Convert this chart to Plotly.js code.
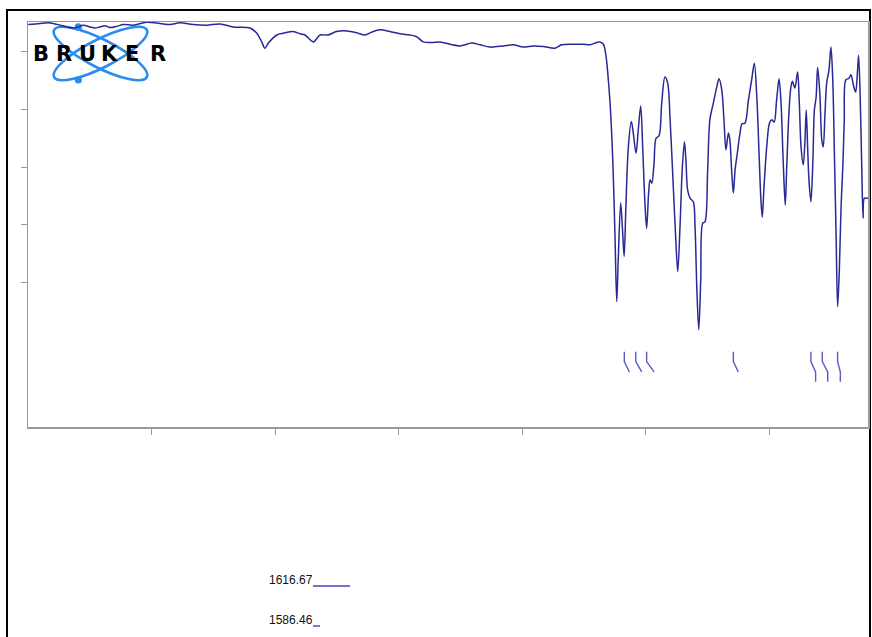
<!DOCTYPE html>
<html>
<head>
<meta charset="utf-8">
<script src="https://cdn.plot.ly/plotly-3.0.1.min.js"></script>
<style>html,body{margin:0;padding:0;background:#fff;}#chart{width:872px;height:637px;}</style>
</head>
<body>
<div id="chart"></div>
<script>
// ---- data (wavenumber cm-1, transmittance %) ----
const wavenumber = [3999,3951,3918,3898,3870,3843,3817,3796,3776,3749,
3729,3709,3688,3668,3641,3614,3574,3520,3466,3425,
3385,3331,3277,3223,3169,3115,3101,3074,3054,3041,
3027,2993,2967,2926,2899,2879,2845,2818,2785,2751,
2710,2670,2636,2609,2575,2535,2494,2454,2427,2400,
2366,2332,2292,2251,2204,2170,2130,2076,2036,1995,
1955,1914,1867,1840,1793,1752,1725,1698,1685,1671,
1660,1651,1644,1633,1624,1617,1611,1601,1593,1587,
1580,1570,1558,1550,1539,1530,1520,1512,1503,1496,
1488,1482,1475,1466,1458,1446,1435,1422,1411,1401,
1388,1378,1370,1361,1352,1343,1337,1330,1320,1307,
1300,1293,1285,1277,1269,1260,1249,1240,1226,1212,
1203,1192,1183,1175,1165,1159,1152,1145,1138,1129,
1118,1110,1098,1084,1071,1060,1050,1041,1034,1028,
1021,1010,999,990,980,970,960,952,943,935,
929,920,912,906,896,885,878,871,862,855,
850,844,839,831,823,817,810,804,795,787,
781,774,767,758,750,743,736,729,723,716,
709,702,696,690,677,669,659,650,644,638,
631,625,620,615,605,600];
const transmittance = [104.7,104.9,105.0,104.9,104.6,104.3,104.1,104.3,104.6,104.3,
104.1,104.3,104.5,104.2,104.4,104.7,104.6,105.1,104.9,104.7,
105.0,104.7,104.6,104.8,104.3,104.2,104.1,103.2,101.7,100.6,
101.5,102.9,103.2,103.5,103.1,102.9,101.7,102.9,102.9,103.5,
103.6,103.3,102.9,103.4,103.8,103.5,103.1,102.9,102.6,101.7,
101.6,101.7,101.3,101.0,101.5,101.2,100.8,101.0,101.2,100.8,
101.0,100.9,100.6,101.2,101.3,101.3,101.2,101.6,101.7,101.3,
99.1,95.1,91.1,81.2,67.9,56.7,63.9,73.8,68.6,64.5,
73.1,83.5,87.9,85.9,82.4,86.4,90.6,83.5,73.8,69.4,
75.5,77.8,77.2,80.7,85.0,85.4,91.1,95.6,94.6,88.2,
76.5,67.4,61.9,69.6,79.5,84.4,81.2,76.0,74.6,74.0,
69.6,59.2,51.8,60.4,70.3,70.5,79.5,88.2,91.1,93.9,
95.3,93.4,88.2,83.0,85.9,84.7,79.5,75.5,79.5,82.4,
85.9,87.5,87.6,91.6,95.1,98.0,92.1,82.4,74.8,71.3,
76.5,83.5,87.6,88.2,87.8,91.6,95.3,91.1,80.7,73.4,
80.0,89.4,93.9,94.9,93.7,96.5,91.1,83.5,80.4,84.7,
89.9,83.0,77.8,74.0,81.2,89.9,92.1,97.3,92.8,84.7,
83.5,89.4,94.7,96.8,100.8,95.6,82.4,67.9,55.8,62.2,
73.1,80.0,88.2,95.1,95.4,96.0,94.2,93.0,95.6,99.4,
91.1,79.5,71.2,74.6,74.6,74.6];

// peak marker positions (cm-1) and where each leader bends to
const peakWn  = [1586.46, 1540, 1496, 1145, 831, 785, 723];
const leaderWn = [1566, 1516, 1466, 1125, 812, 763, 712];
const leaderLong = [false, false, false, false, true, true, true];
const peakLabels = ['1616.67', '1586.46'];

const xTicks = [3500, 3000, 2500, 2000, 1500, 1000];
const yTicks = [100, 90, 80, 70, 60];

// ---- layout constants ----
const W = 872, H = 637;
const L = 28, R = 868, T = 22, B = 427;
const pw = R - L, ph = B - T;
const px = p => (p - L) / pw;        // pixel x -> paper
const py = p => (B - p) / ph;        // pixel y -> paper

// leader lines
const lx = [], ly = [];
const yA = 48.0, yB = 46.3, yC = 44.5, yD = 42.8;
for (let i = 0; i < peakWn.length; i++) {
  lx.push(peakWn[i], peakWn[i], leaderWn[i]);
  ly.push(yA, yB, yC);
  if (leaderLong[i]) { lx.push(leaderWn[i]); ly.push(yD); }
  lx.push(null); ly.push(null);
}

const traces = [
  {x: wavenumber, y: transmittance, type: 'scatter', mode: 'lines',
   line: {color: 'rgb(40,40,150)', width: 1.5, shape: 'spline', smoothing: 0.9},
   hoverinfo: 'skip'},
  {x: lx, y: ly, type: 'scatter', mode: 'lines',
   line: {color: 'rgb(90,90,200)', width: 1.4}, hoverinfo: 'skip', connectgaps: false}
];

const logoSvg =
 '<svg xmlns="http://www.w3.org/2000/svg" width="120" height="70" viewBox="0 0 120 70">' +
 '<g fill="none" stroke="#2a8cf0" stroke-width="2.6">' +
 '<ellipse cx="60.5" cy="35.5" rx="52" ry="14" transform="rotate(27 60.5 35.5)"/>' +
 '<ellipse cx="60.5" cy="35.5" rx="52" ry="14" transform="rotate(-27 60.5 35.5)"/>' +
 '</g><g fill="#2a8cf0"><circle cx="38.3" cy="8.9" r="3.6"/><circle cx="38.3" cy="62" r="3.6"/></g></svg>';

const letters = ['B','R','U','K','E','R'];
const letterX = [41, 64, 87.5, 109, 131.5, 157.5];
const annotations = letters.map((c, i) => ({
  text: '<b>' + c + '</b>', xref: 'paper', yref: 'paper', x: px(letterX[i]), y: py(54),
  xanchor: 'center', yanchor: 'middle', showarrow: false,
  font: {family: 'DejaVu Sans', size: 21, color: '#000'}
}));
annotations.push(
  {text: peakLabels[0], xref: 'paper', yref: 'paper', x: px(267), y: py(580),
   xanchor: 'left', yanchor: 'middle', showarrow: false,
   font: {family: 'Liberation Sans, Arial', size: 12, color: '#111'}},
  {text: peakLabels[1], xref: 'paper', yref: 'paper', x: px(267), y: py(620),
   xanchor: 'left', yanchor: 'middle', showarrow: false,
   font: {family: 'Liberation Sans, Arial', size: 12, color: '#111'}}
);

const shapes = [
  {type: 'rect', xref: 'paper', yref: 'paper', x0: px(7), x1: px(870), y0: py(660), y1: py(10),
   line: {color: '#000', width: 2}, fillcolor: 'rgba(0,0,0,0)', layer: 'below'},
  {type: 'line', xref: 'paper', yref: 'paper', x0: px(313), x1: px(350), y0: py(586), y1: py(586),
   line: {color: 'rgb(70,70,190)', width: 1.4}},
  {type: 'line', xref: 'paper', yref: 'paper', x0: px(313), x1: px(320), y0: py(626), y1: py(626),
   line: {color: 'rgb(70,70,190)', width: 1.4}}
];

const layout = {
  width: W, height: H,
  margin: {l: L, r: W - R, t: T, b: H - B, pad: 0},
  paper_bgcolor: '#fff', plot_bgcolor: '#fff',
  showlegend: false, hovermode: false,
  xaxis: {range: [4000, 600], tickvals: xTicks, showticklabels: false,
          ticks: 'outside', ticklen: 6, tickcolor: '#999', tickwidth: 1,
          showline: true, linecolor: '#999', linewidth: 1.5, mirror: true,
          showgrid: false, zeroline: false},
  yaxis: {range: [34.96, 105.15], tickvals: yTicks, showticklabels: false,
          ticks: 'outside', ticklen: 6, tickcolor: '#999', tickwidth: 1,
          showline: true, linecolor: '#999', linewidth: 1.5, mirror: true,
          showgrid: false, zeroline: false},
  images: [{source: 'data:image/svg+xml;utf8,' + encodeURIComponent(logoSvg),
            xref: 'paper', yref: 'paper', x: px(40), y: py(18),
            sizex: 120 / pw, sizey: 70 / ph, sizing: 'stretch',
            xanchor: 'left', yanchor: 'top', layer: 'below'}],
  annotations: annotations,
  shapes: shapes
};

Plotly.newPlot('chart', traces, layout, {staticPlot: true, displayModeBar: false});
</script>
</body>
</html>
